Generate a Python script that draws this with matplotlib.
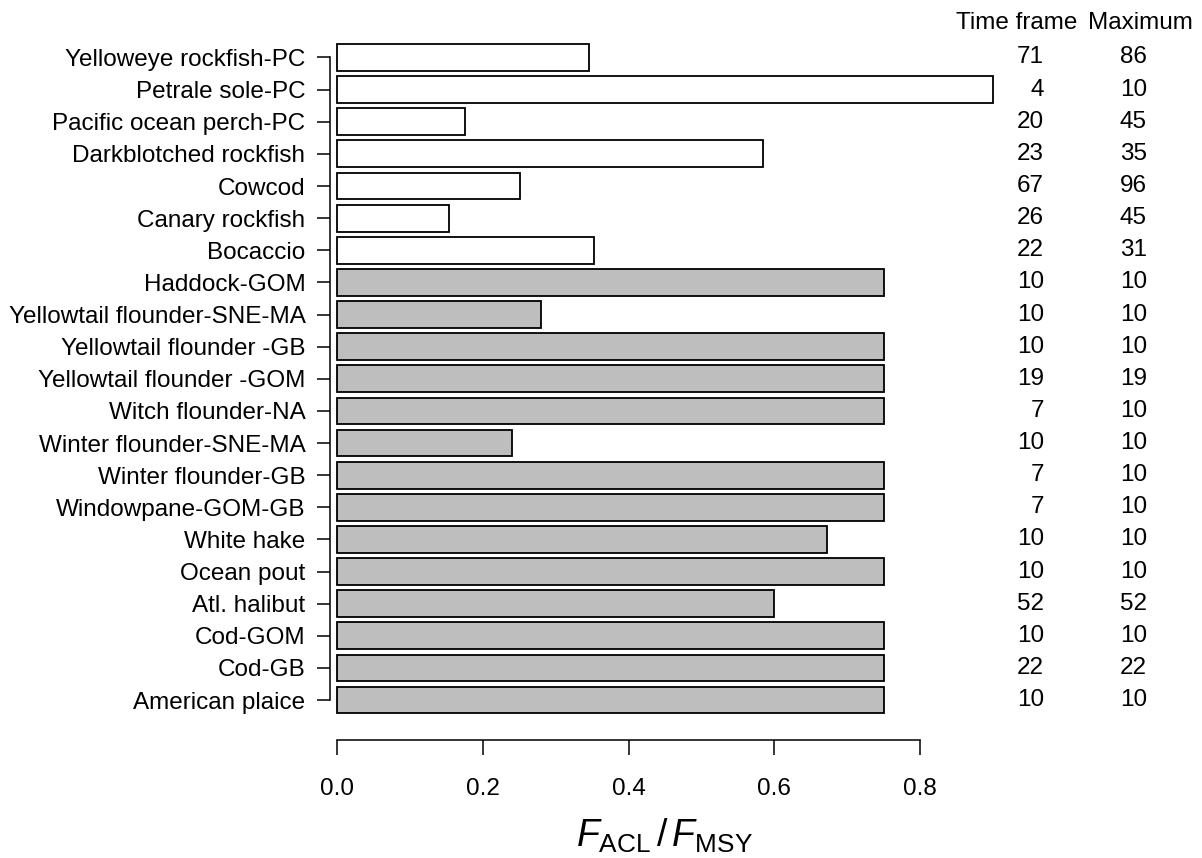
import matplotlib
matplotlib.use("Agg")
import matplotlib.pyplot as plt
import matplotlib.transforms as mtransforms
import numpy as np

plt.rcParams.update({
    'font.family': ['Liberation Sans', 'DejaVu Sans'],
    'font.size': 17.5,
    'mathtext.fontset': 'custom',
    'mathtext.rm': 'Liberation Sans',
    'mathtext.it': 'Liberation Sans:italic',
    'mathtext.bf': 'Liberation Sans:bold',
})

# stocks listed top to bottom
stocks = [
    "Yelloweye rockfish-PC", "Petrale sole-PC", "Pacific ocean perch-PC",
    "Darkblotched rockfish", "Cowcod", "Canary rockfish", "Bocaccio",
    "Haddock-GOM", "Yellowtail flounder-SNE-MA", "Yellowtail flounder -GB",
    "Yellowtail flounder -GOM", "Witch flounder-NA", "Winter flounder-SNE-MA",
    "Winter flounder-GB", "Windowpane-GOM-GB", "White hake", "Ocean pout",
    "Atl. halibut", "Cod-GOM", "Cod-GB", "American plaice",
]
f_ratio = [0.346, 0.90, 0.176, 0.585, 0.251, 0.153, 0.353,
           0.75, 0.28, 0.75, 0.75, 0.75, 0.24, 0.75, 0.75,
           0.672, 0.75, 0.60, 0.75, 0.75, 0.75]
time_frame = [71, 4, 20, 23, 67, 26, 22, 10, 10, 10, 19, 7, 10, 7, 7,
              10, 10, 52, 10, 22, 10]
maximum = [86, 10, 45, 35, 96, 45, 31, 10, 10, 10, 19, 10, 10, 10, 10,
           10, 10, 52, 10, 22, 10]
pacific = [True] * 7 + [False] * 14

n = len(stocks)
ypos = np.arange(n)[::-1]
colors = ['white' if p else '#bebebe' for p in pacific]

fig = plt.figure(figsize=(12.02, 8.58), dpi=100)
ax = fig.add_axes([0.2586, 0.1373, 0.5893, 0.8425])

ax.barh(ypos, f_ratio, height=0.833, color=colors, edgecolor='black',
        linewidth=1.3)

ax.set_xlim(-0.036, 0.936)
ax.set_ylim(-1.25, n - 1 + 1.25)

for s in ['top', 'right']:
    ax.spines[s].set_visible(False)
ax.spines['left'].set_position(('data', -0.01))
ax.spines['left'].set_bounds(0, n - 1)
ax.spines['bottom'].set_bounds(0, 0.8)
ax.spines['left'].set_linewidth(1.1)
ax.spines['bottom'].set_linewidth(1.1)

ax.set_yticks(ypos)
ax.set_yticklabels(stocks)
ax.set_xticks([0.0, 0.2, 0.4, 0.6, 0.8])
ax.set_xticklabels(['0.0', '0.2', '0.4', '0.6', '0.8'])
ax.tick_params(axis='y', length=9.5, width=1.1, pad=8)
ax.tick_params(axis='x', length=10.5, width=1.1, pad=17)

ax.set_xlabel(r'$F_{\mathrm{ACL}}\,/\,F_{\mathrm{MSY}}$', fontsize=27,
              labelpad=12)

# side table: time frame and maximum rebuilding years
trans = mtransforms.blended_transform_factory(fig.transFigure, ax.transData)
for y, tf, mx in zip(ypos, time_frame, maximum):
    ax.text(0.8686, y, str(tf), transform=trans, ha='right', va='center',
            clip_on=False)
    ax.text(0.9542, y, str(mx), transform=trans, ha='right', va='center',
            clip_on=False)
fig.text(1017 / 1202, 1 - 23 / 858, 'Time frame', ha='center', va='center')
fig.text(1140 / 1202, 1 - 23 / 858, 'Maximum', ha='center', va='center')

fig.savefig('out.png', dpi=100)
